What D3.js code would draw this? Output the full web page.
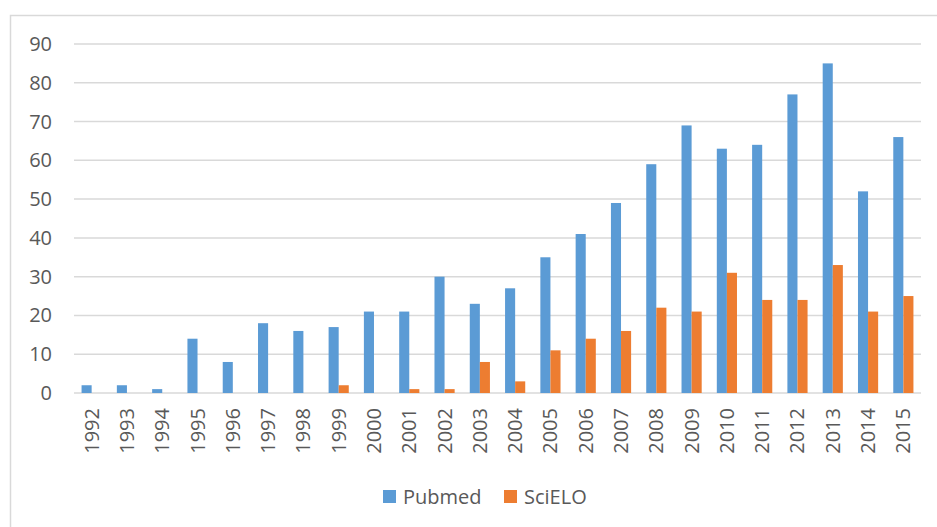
<!DOCTYPE html>
<html>
<head>
<meta charset="utf-8">
<script src="https://cdn.jsdelivr.net/npm/d3@7"></script>
<style>
  body { margin: 0; background: #fff; }
  svg text { font-family: "Open Sans", "Liberation Sans", sans-serif; fill: #595959; }
</style>
</head>
<body>
<svg width="937" height="527"></svg>
<script>
// data
const years = ['1992', '1993', '1994', '1995', '1996', '1997', '1998', '1999', '2000', '2001', '2002', '2003',
    '2004', '2005', '2006', '2007', '2008', '2009', '2010', '2011', '2012', '2013', '2014', '2015'];
const pubmed = [2, 2, 1, 14, 8, 18, 16, 17, 21, 21, 30, 23, 27, 35, 41, 49, 59, 69, 63, 64, 77, 85, 52, 66];
const scielo = [0, 0, 0, 0, 0, 0, 0, 2, 0, 1, 1, 8, 3, 11, 14, 16, 22, 21, 31, 24, 24, 33, 21, 25];
const seriesNames = ['Pubmed', 'SciELO'];
const yTicks = [0, 10, 20, 30, 40, 50, 60, 70, 80, 90];

const colors = ['#5b9bd5', '#ed7d31'];
const svg = d3.select('svg');

// chart border (runs off the right and bottom edge like the picture)
svg.append('rect')
    .attr('x', 10.5).attr('y', 15.5)
    .attr('width', 960).attr('height', 560)
    .attr('fill', 'none').attr('stroke', '#d9d9d9').attr('stroke-width', 1.5);

const plotL = 74, plotR = 921, plotT = 44, plotB = 393;

const x = d3.scaleBand().domain(years).range([plotL, plotR]).paddingInner(0).paddingOuter(0);
const x1 = d3.scaleBand().domain(seriesNames).range([0, x.bandwidth()]).paddingInner(0).paddingOuter(0.75);
const y = d3.scaleLinear().domain([0, 90]).range([plotB, plotT]);

// gridlines
svg.append('g')
    .selectAll('line')
    .data(yTicks)
    .join('line')
    .attr('x1', plotL).attr('x2', plotR)
    .attr('y1', d => y(d)).attr('y2', d => y(d))
    .attr('stroke', '#d9d9d9').attr('stroke-width', 1.5);

// y labels
svg.append('g')
    .selectAll('text')
    .data(yTicks)
    .join('text')
    .attr('x', 52)
    .attr('y', d => y(d))
    .attr('dy', '0.35em')
    .attr('text-anchor', 'end')
    .style('font-size', '20px')
    .text(d => d);

// bars
const rows = years.map((yr, i) => ({ year: yr, values: [pubmed[i], scielo[i]] }));
const groups = svg.append('g')
    .selectAll('g')
    .data(rows)
    .join('g')
    .attr('transform', d => 'translate(' + x(d.year) + ',0)');

groups.selectAll('rect')
    .data(d => d.values.map((v, k) => ({ key: seriesNames[k], value: v, k: k })))
    .join('rect')
    .attr('x', d => x1(d.key))
    .attr('width', x1.bandwidth())
    .attr('y', d => y(d.value))
    .attr('height', d => y(0) - y(d.value))
    .attr('fill', d => colors[d.k]);

// x labels, rotated
svg.append('g')
    .selectAll('text')
    .data(years)
    .join('text')
    .attr('transform', d => 'translate(' + (x(d) + x.bandwidth() / 2) + ',408) rotate(-90)')
    .attr('dy', '0.35em')
    .attr('text-anchor', 'end')
    .style('font-size', '20px')
    .text(d => d);

// legend
const legendPos = [383, 504];
const legend = svg.append('g')
    .selectAll('g')
    .data(seriesNames)
    .join('g')
    .attr('transform', (d, i) => 'translate(' + legendPos[i] + ',490)');
legend.append('rect')
    .attr('width', 13).attr('height', 13)
    .attr('fill', (d, i) => colors[i]);
legend.append('text')
    .attr('x', 20).attr('y', 6.5)
    .attr('dy', '0.35em')
    .style('font-size', '20px')
    .text(d => d);
</script>
</body>
</html>
